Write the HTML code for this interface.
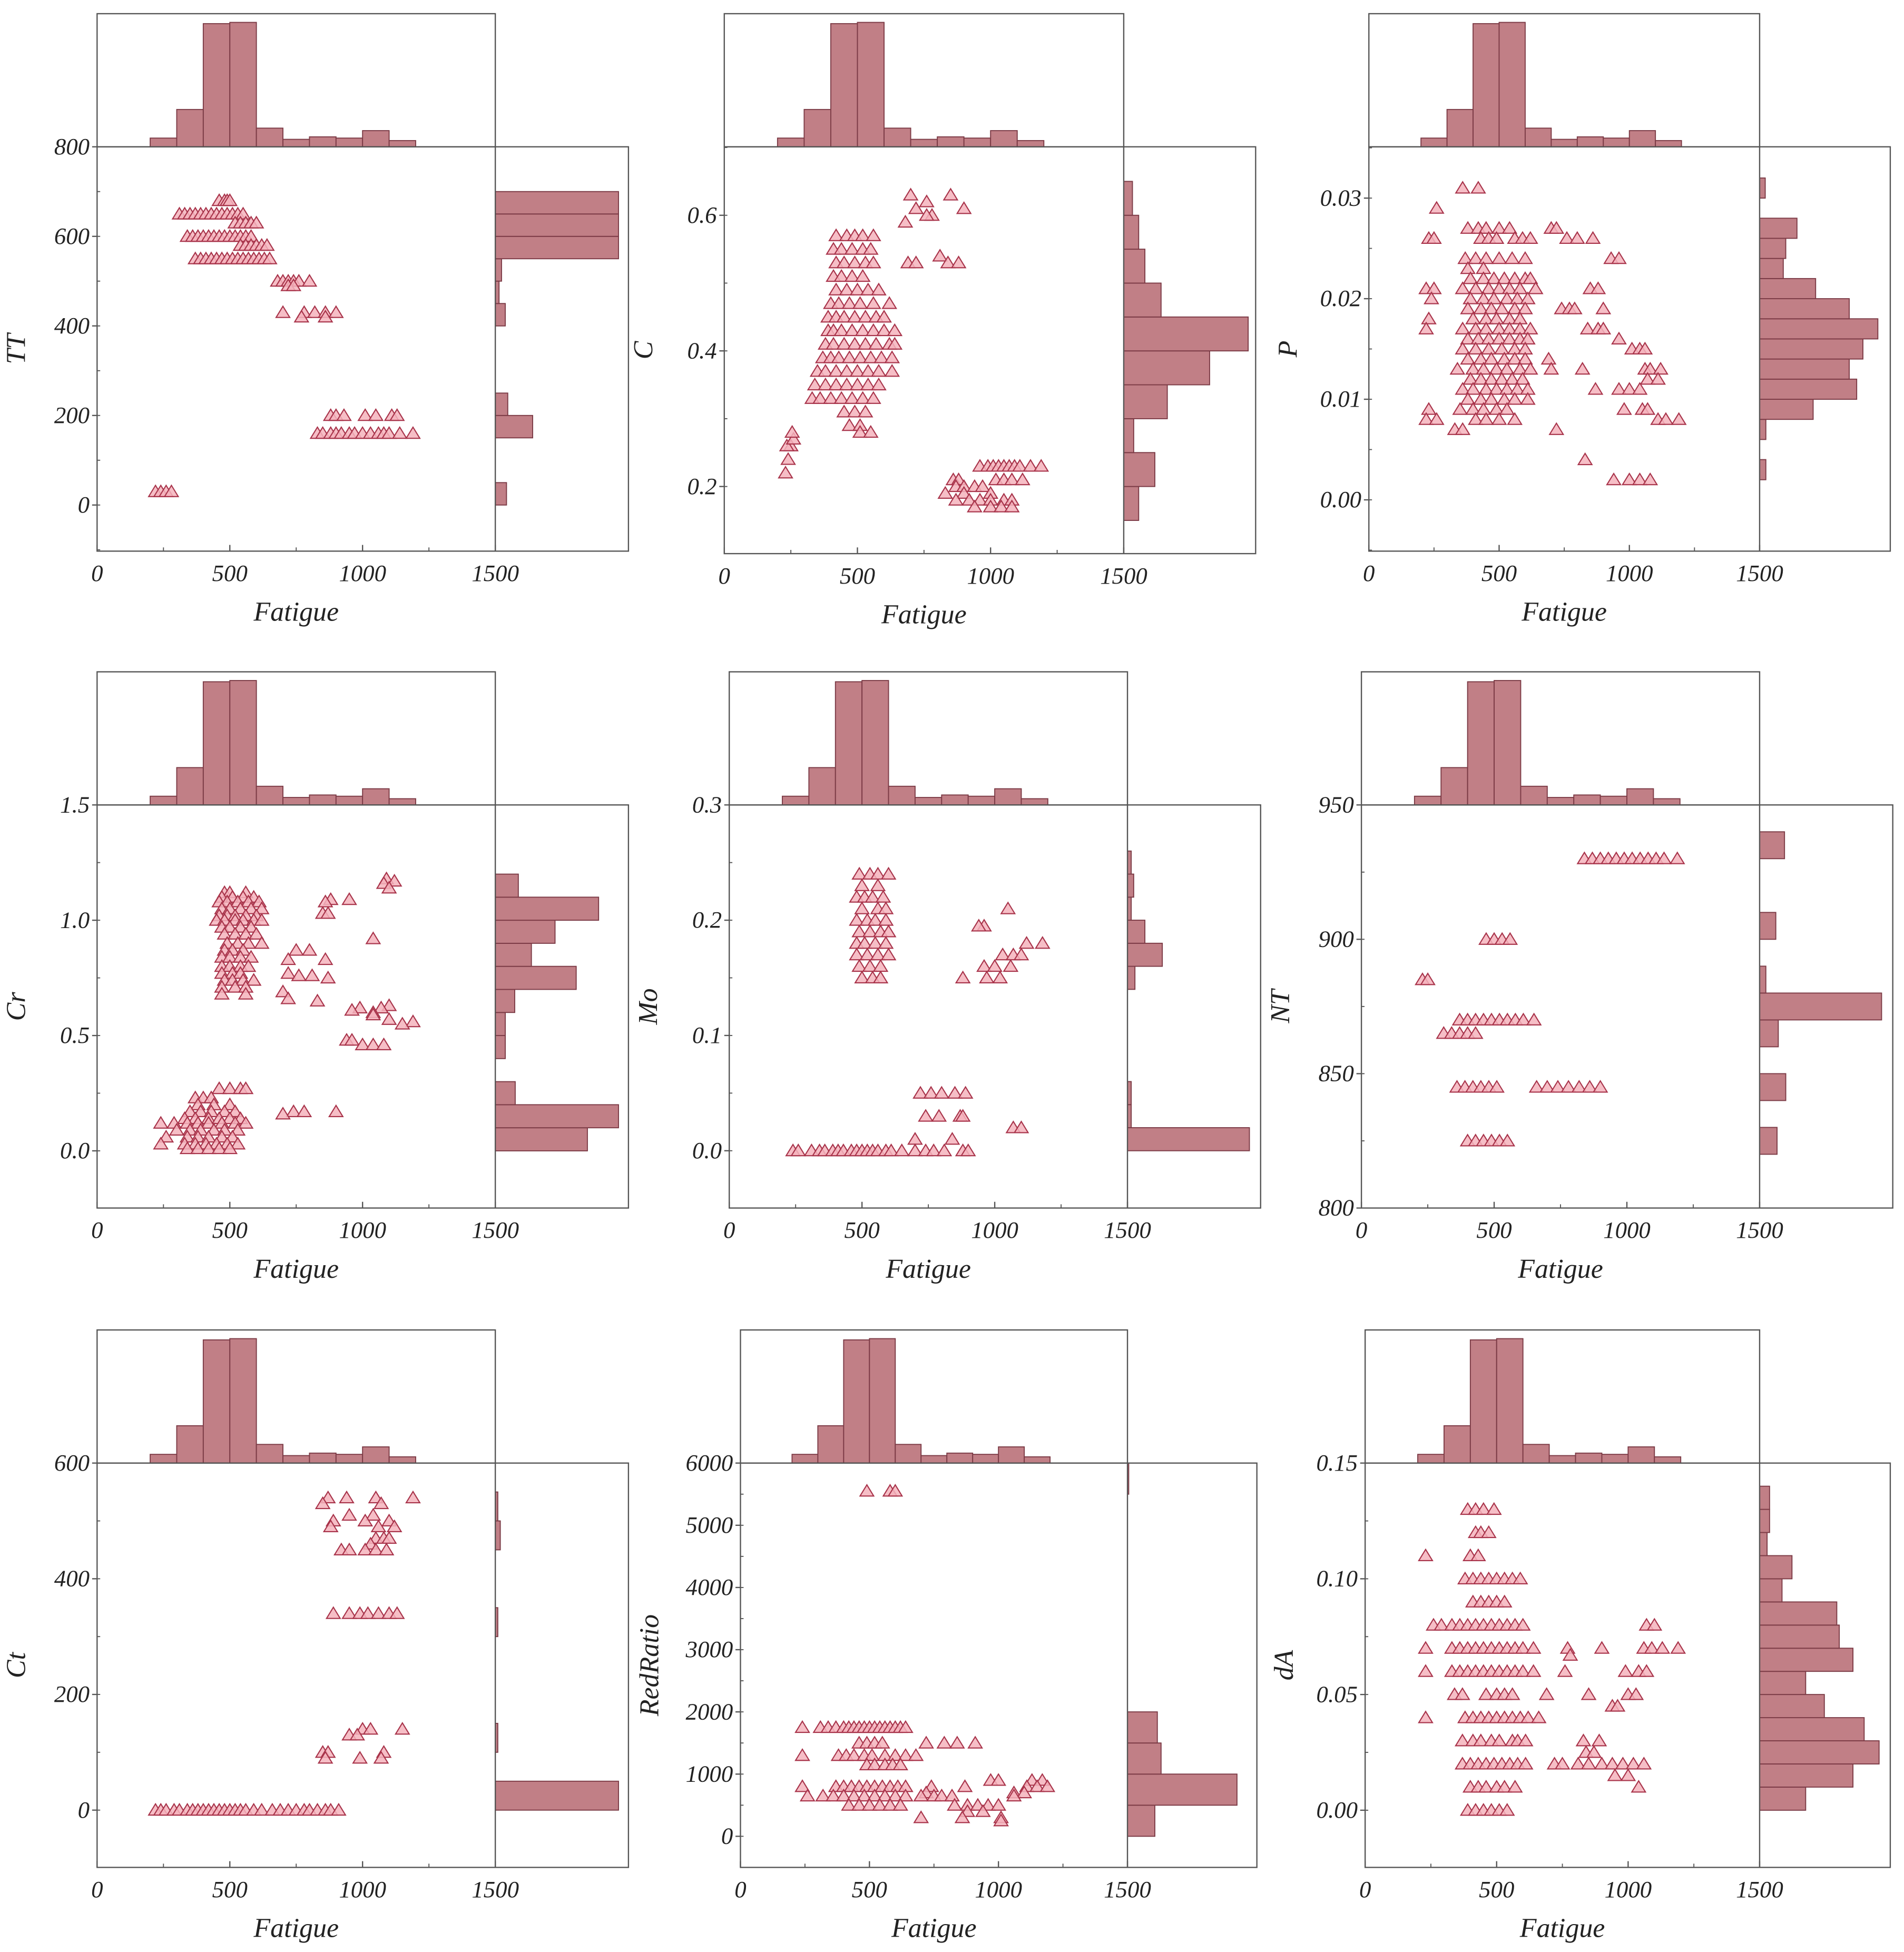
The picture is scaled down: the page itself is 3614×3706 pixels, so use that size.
<!DOCTYPE html>
<html><head><meta charset="utf-8"><style>
html,body{margin:0;padding:0;background:#fff}
svg{display:block}
text{font-family:"Liberation Serif","DejaVu Serif",serif;font-style:italic;fill:#222}
</style></head><body>
<svg id="fig" xmlns="http://www.w3.org/2000/svg" width="3614" height="3706" viewBox="0 0 1530 1569"></svg>
<script>
// ---------- DATA ----------
const fatigueBinStart = 200;
const fatigueHistCounts = [7, 30, 99, 100, 15, 6, 8, 7, 13, 5];

const ttTicks = [0, 200, 400, 600, 800];
const ttHist = [9, 0, 0, 30, 10, 0, 0, 0, 8, 3, 5, 99, 99, 99];
const ttRows = [
  [680, [460, 480, 490, 500]],
  [650, [310, 330, 350, 370, 390, 410, 430, 450, 470, 490, 510, 530, 550]],
  [630, [520, 540, 560, 580, 600]],
  [600, [340, 360, 380, 400, 420, 440, 460, 480, 500, 520, 540, 560, 580]],
  [580, [540, 560, 580, 600, 620, 640]],
  [550, [370, 390, 410, 430, 450, 470, 490, 510, 530, 550, 570, 590, 610, 630, 650]],
  [500, [680, 700, 720, 740, 760, 800]],
  [490, [720, 740]],
  [430, [700, 780, 820, 860, 900]],
  [420, [770, 860]],
  [200, [880, 900, 930, 1010, 1050, 1110, 1130]],
  [160, [830, 850, 880, 900, 920, 950, 970, 1000, 1030, 1060, 1080, 1100, 1140, 1190]],
  [30, [220, 240, 260, 280]]
];

const cTicks = [0.2, 0.4, 0.6];
const cHist = [12, 25, 8, 35, 69, 100, 30, 17, 12, 7];
const cRows = [
  [0.22, [230]], [0.24, [240]], [0.26, [250, 235]], [0.27, [260]], [0.28, [255]],
  [0.57, [420, 460, 490, 520, 560]],
  [0.55, [410, 440, 480, 520, 550]],
  [0.53, [420, 450, 490, 530, 560]],
  [0.51, [410, 440, 480, 520]],
  [0.49, [420, 460, 500, 540, 580]],
  [0.47, [400, 430, 470, 510, 560, 620]],
  [0.45, [390, 420, 450, 490, 530, 570, 600]],
  [0.43, [390, 410, 440, 480, 520, 560, 600, 640]],
  [0.41, [380, 410, 450, 490, 530, 570, 620, 640]],
  [0.39, [370, 400, 430, 470, 510, 550, 590, 630]],
  [0.37, [350, 380, 420, 460, 500, 540, 580, 630]],
  [0.35, [340, 380, 420, 460, 500, 540, 580]],
  [0.33, [330, 360, 400, 440, 480, 520, 560]],
  [0.31, [450, 490, 530]],
  [0.29, [470, 510]],
  [0.28, [510, 550]],
  [0.63, [700, 850]], [0.62, [760]], [0.61, [720, 900]], [0.60, [780, 760]], [0.59, [680]],
  [0.54, [810]], [0.53, [690, 720, 840, 880]],
  [0.23, [960, 990, 1010, 1030, 1050, 1070, 1090, 1110, 1150, 1190]],
  [0.21, [860, 880, 1020, 1050, 1080, 1120]],
  [0.20, [870, 900, 940, 970]],
  [0.19, [830, 900, 1000]],
  [0.18, [870, 920, 960, 1000, 1050, 1080]],
  [0.17, [940, 1000, 1040, 1080]]
];

const pTicks = [0.00, 0.01, 0.02, 0.03];
const pHist = [5, 0, 5, 43, 78, 72, 83, 95, 72, 45, 19, 21, 30, 0, 4.5];
const pRows = [
  [0.031, [360, 420]], [0.029, [260]],
  [0.027, [380, 420, 450, 500, 540, 700, 720]],
  [0.026, [230, 250, 430, 460, 490, 560, 590, 620, 760, 800, 860]],
  [0.024, [370, 410, 450, 500, 550, 600, 930, 960]],
  [0.023, [380, 440]],
  [0.022, [390, 440, 480, 520, 560, 600, 620]],
  [0.021, [220, 250, 360, 410, 460, 500, 540, 580, 640, 850, 880]],
  [0.020, [240, 390, 440, 480, 530, 570, 610]],
  [0.019, [380, 430, 470, 510, 560, 600, 740, 770, 790, 900]],
  [0.018, [230, 400, 450, 490, 540, 580]],
  [0.017, [220, 360, 410, 450, 500, 540, 580, 620, 840, 880, 900]],
  [0.016, [380, 420, 460, 500, 540, 580, 610, 960]],
  [0.015, [360, 410, 460, 510, 560, 600, 1010, 1040, 1060]],
  [0.014, [380, 430, 470, 520, 560, 600, 690]],
  [0.013, [340, 400, 440, 490, 530, 580, 620, 700, 820, 1060, 1080, 1120]],
  [0.012, [390, 430, 470, 510, 550, 590, 1070, 1110]],
  [0.011, [360, 400, 450, 490, 530, 570, 610, 870, 960, 1000, 1040]],
  [0.010, [380, 430, 470, 520, 560, 610]],
  [0.009, [230, 350, 400, 440, 490, 530, 980, 1050, 1070]],
  [0.008, [220, 260, 410, 450, 500, 560, 1110, 1140, 1190]],
  [0.007, [330, 360, 720]],
  [0.004, [830]],
  [0.002, [940, 1000, 1040, 1080]]
];

const crTicks = [0.0, 0.5, 1.0, 1.5];
const crHist = [74, 99, 16, 0, 8, 8, 15.6, 65, 29, 48, 83, 18.5];
const crRows = [
  [1.12, [480, 500, 560]], [1.10, [470, 510, 550, 590]], [1.08, [460, 490, 530, 570, 610]],
  [1.05, [470, 500, 540, 580, 620]], [1.02, [460, 490, 520, 560, 600]],
  [1.00, [450, 480, 520, 550, 590, 620]], [0.97, [470, 500, 540, 580]],
  [0.94, [480, 520, 560, 600]], [0.90, [490, 530, 570, 620]], [0.87, [480, 510, 550]],
  [0.84, [470, 500, 540, 580]], [0.80, [470, 500, 540, 570]], [0.77, [470, 510, 540]],
  [0.74, [480, 510, 550, 590]], [0.71, [470, 520, 560]], [0.68, [470, 560]],
  [1.18, [1090]], [1.17, [1120]], [1.16, [1080]], [1.14, [1100]],
  [1.09, [880, 950]], [1.08, [860]], [1.03, [850, 870]], [0.92, [1040]],
  [0.87, [750, 800]], [0.83, [720, 860]], [0.77, [720]], [0.76, [760, 810]], [0.75, [870]],
  [0.69, [700]], [0.66, [720]], [0.65, [830]],
  [0.63, [1100]], [0.62, [990, 1070]], [0.61, [960]], [0.60, [1040]], [0.59, [1040]],
  [0.57, [1100]], [0.56, [1190]], [0.55, [1150]],
  [0.48, [940, 960]], [0.46, [1000, 1040, 1080]],
  [0.27, [460, 500, 540, 560]], [0.23, [370, 400, 430]], [0.20, [380, 440, 500]],
  [0.17, [350, 390, 430, 480, 520, 740, 780, 900]], [0.16, [700]],
  [0.14, [330, 370, 420, 460, 500, 540]],
  [0.12, [240, 290, 340, 380, 420, 470, 520, 560]],
  [0.09, [300, 350, 390, 440, 480, 530]],
  [0.06, [260, 340, 380, 420, 470, 510]],
  [0.03, [240, 330, 370, 410, 450, 490, 530]],
  [0.01, [340, 380, 420, 460, 500]]
];

const moTicks = [0.0, 0.1, 0.2, 0.3];
const moHist = [98, 3, 3, 0, 0, 0, 0, 6, 28, 14, 3, 5, 3];
const moRows = [
  [0.24, [490, 530, 560, 600]], [0.23, [500, 560]], [0.22, [480, 510, 540, 580]],
  [0.21, [500, 560, 590]], [0.20, [480, 520, 550, 590]], [0.19, [490, 530, 570, 600]],
  [0.18, [480, 510, 550, 590]], [0.17, [480, 520, 560, 600]], [0.16, [490, 530, 570]],
  [0.15, [500, 540, 570]],
  [0.21, [1050]], [0.195, [960, 940]], [0.18, [1120, 1180]], [0.17, [1030, 1070, 1100]],
  [0.16, [960, 1000, 1060]], [0.15, [880, 970, 1020]],
  [0.05, [720, 760, 800, 850, 890]], [0.03, [740, 790, 870, 880]], [0.02, [1070, 1100]],
  [0.01, [700, 840]],
  [0.00, [240, 260, 310, 340, 360, 390, 410, 430, 460, 480, 500, 520, 540, 560, 590, 610, 650, 700, 740, 770, 810, 880, 900]]
];

const ntTicks = [800, 850, 900, 950];
const ntHist = [0, 0, 14, 0, 21, 0, 15, 98, 5, 0, 13, 0, 0, 20, 0];
const ntRows = [
  [930, [840, 870, 900, 930, 960, 990, 1020, 1050, 1080, 1110, 1140, 1190]],
  [900, [470, 500, 530, 560]],
  [885, [230, 250]],
  [870, [370, 400, 430, 460, 490, 520, 550, 580, 610, 650]],
  [865, [310, 340, 370, 400, 430]],
  [845, [360, 390, 420, 450, 480, 510, 660, 700, 740, 780, 820, 860, 900]],
  [825, [400, 430, 460, 490, 520, 550]]
];

const ctTicks = [0, 200, 400, 600];
const ctHist = [99, 0, 2, 0, 0, 0, 2, 0, 0, 4, 2, 0];
const ctRows = [
  [540, [870, 940, 1050, 1190]], [530, [850, 1070]], [510, [950, 1040]],
  [500, [890, 1010, 1100]], [490, [880, 1060, 1120]], [470, [1050, 1080, 1100]],
  [460, [1030]], [450, [920, 950, 1010, 1050, 1090]],
  [340, [890, 950, 990, 1020, 1060, 1100, 1130]],
  [140, [1000, 1030, 1150]], [130, [950, 980]], [100, [850, 870, 1080]], [90, [860, 990, 1070]],
  [0, [220, 240, 260, 290, 310, 340, 360, 380, 400, 420, 440, 460, 480, 500, 520, 540, 560, 590, 620, 660, 690, 720, 750, 780, 800, 830, 860, 880, 910]]
];

const rrTicks = [0, 1000, 2000, 3000, 4000, 5000, 6000];
const rrHist = [22, 88, 27, 24, 0, 0, 0, 0, 0, 0, 0, 1];
const rrRows = [
  [5550, [490, 580, 600]],
  [1750, [240, 310, 340, 370, 400, 420, 440, 460, 480, 500, 520, 540, 560, 580, 600, 620, 640]],
  [1500, [460, 490, 520, 550, 720, 790, 840, 910]],
  [1300, [240, 380, 410, 440, 480, 510, 560, 600, 640, 680]],
  [1150, [490, 520, 560, 590, 620]],
  [900, [970, 1000, 1130, 1170]],
  [800, [240, 370, 400, 430, 460, 490, 520, 550, 580, 610, 640, 740, 870, 1110, 1150, 1190]],
  [700, [720, 1060, 1100]],
  [650, [260, 320, 360, 400, 440, 480, 520, 560, 600, 640, 700, 750, 780, 820, 1060]],
  [500, [420, 460, 500, 540, 580, 620, 830, 880, 920, 960, 1000]],
  [400, [880, 940]],
  [300, [700, 860, 1010]],
  [250, [1010]]
];

const daTicks = [0.00, 0.05, 0.10, 0.15];
const daHist = [37, 75, 96, 84, 52, 37, 75, 64, 62, 18, 26, 6, 8, 8];
const daRows = [
  [0.13, [390, 420, 450, 490]], [0.12, [420, 440, 470]], [0.11, [230, 400, 430]],
  [0.10, [380, 410, 440, 470, 500, 530, 560, 590]],
  [0.09, [410, 440, 470, 500, 530]],
  [0.08, [260, 290, 330, 360, 390, 420, 450, 480, 510, 540, 570, 600, 1070, 1100]],
  [0.07, [230, 330, 360, 390, 420, 450, 480, 510, 540, 570, 600, 640, 770, 900, 1060, 1090, 1130, 1190]],
  [0.067, [780]],
  [0.06, [230, 330, 360, 390, 420, 450, 480, 510, 540, 570, 600, 640, 760, 990, 1040, 1070]],
  [0.05, [340, 370, 460, 500, 530, 560, 690, 850, 1000, 1030]],
  [0.045, [940, 960]],
  [0.04, [230, 380, 410, 440, 470, 500, 530, 560, 590, 620, 660]],
  [0.03, [370, 410, 440, 480, 510, 560, 580, 610, 830, 890]],
  [0.025, [840, 870]],
  [0.02, [370, 400, 430, 460, 490, 520, 550, 580, 610, 720, 750, 810, 850, 900, 940, 980, 1020, 1060]],
  [0.015, [950, 1000]],
  [0.01, [400, 430, 460, 500, 530, 570, 1040]],
  [0.00, [390, 420, 450, 480, 510, 540]]
];

// ---------- LAYOUT ----------
const panels = [
  {id:'tt', label:'TT', x0:78, x1:398, xr:505, yt:118, yb:443, ymin:-103, ymax:800, ticks:ttTicks, fmt:v=>String(v), minor:100, hist:ttHist, hs:0, hw:50, rows:ttRows},
  {id:'c', label:'C', x0:582, x1:903, xr:1009, yt:118, yb:445, ymin:0.101, ymax:0.701, ticks:cTicks, fmt:v=>v.toFixed(1), minor:0.1, hist:cHist, hs:0.15, hw:0.05, rows:cRows},
  {id:'p', label:'P', x0:1100, x1:1414, xr:1519, yt:118, yb:443, ymin:-0.0051, ymax:0.0351, ticks:pTicks, fmt:v=>v.toFixed(2), minor:0.005, hist:pHist, hs:0.002, hw:0.002, rows:pRows},
  {id:'cr', label:'Cr', x0:78, x1:398, xr:505, yt:647, yb:971, ymin:-0.248, ymax:1.5, ticks:crTicks, fmt:v=>v.toFixed(1), minor:0.25, hist:crHist, hs:0, hw:0.1, rows:crRows},
  {id:'mo', label:'Mo', x0:586, x1:906, xr:1013, yt:647, yb:971, ymin:-0.0497, ymax:0.3, ticks:moTicks, fmt:v=>v.toFixed(1), minor:0.05, hist:moHist, hs:0, hw:0.02, rows:moRows},
  {id:'nt', label:'NT', x0:1094, x1:1414, xr:1521, yt:647, yb:971, ymin:800, ymax:950, ticks:ntTicks, fmt:v=>String(v), minor:25, hist:ntHist, hs:800, hw:10, rows:ntRows},
  {id:'ct', label:'Ct', x0:78, x1:398, xr:505, yt:1176, yb:1501, ymin:-99, ymax:600, ticks:ctTicks, fmt:v=>String(v), minor:100, hist:ctHist, hs:0, hw:50, rows:ctRows},
  {id:'rr', label:'RedRatio', x0:595, x1:906, xr:1010, yt:1176, yb:1501, ymin:-500, ymax:6000, ticks:rrTicks, fmt:v=>String(v), minor:500, hist:rrHist, hs:0, hw:500, rows:rrRows},
  {id:'da', label:'dA', x0:1097, x1:1414, xr:1519, yt:1176, yb:1501, ymin:-0.0247, ymax:0.15, ticks:daTicks, fmt:v=>v.toFixed(2), minor:0.025, hist:daHist, hs:0, hw:0.01, rows:daRows}
];
const xTicks = [0, 500, 1000, 1500];
const NS = 'http://www.w3.org/2000/svg';
const FONT = '"Liberation Serif","DejaVu Serif",serif';
const svg = document.getElementById('fig');
function mk(tag, attrs, parent){const e=document.createElementNS(NS,tag);for(const k in attrs)e.setAttribute(k,attrs[k]);(parent||svg).appendChild(e);return e;}
const BAR_FILL='#c17f86', BAR_STROKE='#7b3a45', AX='#555';

panels.forEach(p=>{
  const g = mk('g',{});
  
  
  const X = v => p.x0 + (v/1500)*(p.x1-p.x0);
  const Y = v => p.yb - (v-p.ymin)/(p.ymax-p.ymin)*(p.yb-p.yt);
  const ht = p.yt - 107;
  const th = mk('g',{},g);
  
  
  fatigueHistCounts.forEach((c,i)=>{
    const a=fatigueBinStart+i*100;
    const r=mk('rect',{x:X(a),y:p.yt-c,width:X(a+100)-X(a),height:c,fill:BAR_FILL,stroke:BAR_STROKE,'stroke-width':0.8},th);
    
    
  });
  const rh = mk('g',{},g);
  
  
  p.hist.forEach((c,i)=>{
    if(c<=0) return;
    const lo=p.hs+i*p.hw, hi=lo+p.hw;
    const r=mk('rect',{x:p.x1,y:Y(hi),width:c,height:Y(lo)-Y(hi),fill:BAR_FILL,stroke:BAR_STROKE,'stroke-width':0.8},rh);
    
    
  });
  mk('rect',{x:p.x0,y:ht,width:p.x1-p.x0,height:107,fill:'none',stroke:AX,'stroke-width':1},g);
  mk('rect',{x:p.x0,y:p.yt,width:p.xr-p.x0,height:p.yb-p.yt,fill:'none',stroke:AX,'stroke-width':1},g);
  mk('line',{x1:p.x1,y1:p.yt,x2:p.x1,y2:p.yb,stroke:AX,'stroke-width':1},g);
  for(let v=Math.ceil(p.ymin/p.minor-1e-9)*p.minor; v<=p.ymax+1e-9; v+=p.minor){
    mk('line',{x1:p.x0,y1:Y(v),x2:p.x0+2.5,y2:Y(v),stroke:AX,'stroke-width':0.8},g);
  }
  p.ticks.forEach(v=>{
    mk('line',{x1:p.x0-4,y1:Y(v),x2:p.x0,y2:Y(v),stroke:AX,'stroke-width':1},g);
    const t=mk('text',{x:p.x0-6,y:Y(v)+6,'text-anchor':'end','font-size':19,'font-family':FONT,'font-style':'italic'},g);
    t.textContent=p.fmt(v);
    
    
  });
  [250,750,1250].forEach(v=>mk('line',{x1:X(v),y1:p.yb,x2:X(v),y2:p.yb-3,stroke:AX,'stroke-width':0.8},g));
  xTicks.forEach(v=>{
    mk('line',{x1:X(v),y1:p.yb,x2:X(v),y2:p.yb-5,stroke:AX,'stroke-width':1},g);
    const t=mk('text',{x:X(v),y:p.yb+24,'text-anchor':'middle','font-size':19,'font-family':FONT,'font-style':'italic'},g);
    t.textContent=String(v);
    
    
  });
  const xt=mk('text',{x:(p.x0+p.x1)/2,y:p.yb+56,'text-anchor':'middle','font-size':22,'font-family':FONT,'font-style':'italic'},g);
  xt.textContent='Fatigue';
  
  
  const yc=(p.yt+p.yb)/2;
  const lx = p.x0 - (p.id==='rr'?66:58);
  const yt=mk('text',{x:lx,y:yc,'text-anchor':'middle','font-size':22,'font-family':FONT,'font-style':'italic',transform:`rotate(-90 ${lx} ${yc})`},g);
  yt.textContent=p.label;
  
  
  const pg=mk('g',{},g);
  
  
  p.rows.forEach(([yv,xs])=>xs.forEach(xv=>{
    const cx=X(xv), cy=Y(yv);
    const tri=mk('polygon',{points:`${cx},${cy-5} ${cx-5.5},${cy+4} ${cx+5.5},${cy+4}`,fill:'#f5b3bc','fill-opacity':0.85,stroke:'#a8334a','stroke-width':0.9},pg);
    
    
  }));
});
</script>
</body></html>
